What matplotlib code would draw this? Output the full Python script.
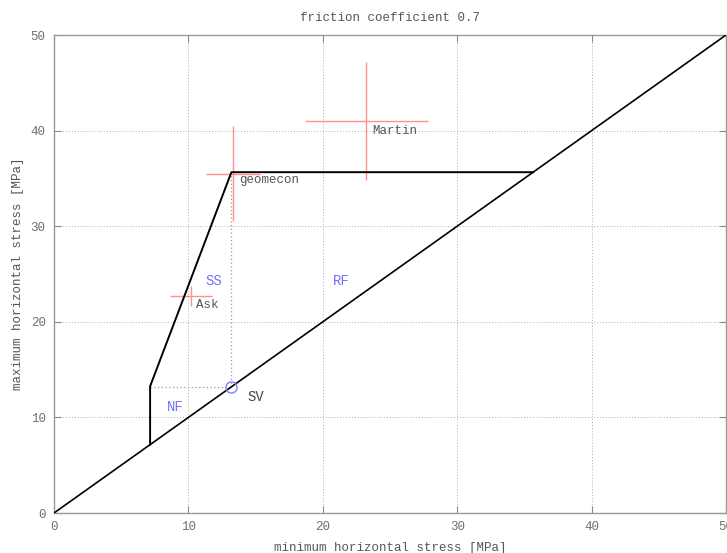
import matplotlib
matplotlib.use("Agg")
import matplotlib.pyplot as plt

# data
diag_x = [0, 50]
diag_y = [0, 50]
poly_x = [7.15, 7.15, 13.2, 35.65]
poly_y = [7.15, 13.25, 35.65, 35.65]
sv_x, sv_y = 13.2, 13.2

meas_names = ["geomecon", "Martin", "Ask"]
meas_x = [13.3, 23.25, 10.2]
meas_y = [35.5, 41.0, 22.7]
meas_xerr = [2.0, 4.6, 1.55]
meas_yerr = [5.0, 6.2, 1.0]
meas_label_xy = [(13.75, 34.8), (23.7, 40.0), (10.6, 21.8)]

regime_names = ["SS", "RF", "NF"]
regime_xy = [(11.9, 24.3), (21.4, 24.3), (9.0, 11.1)]

ticks = [0, 10, 20, 30, 40, 50]

font = "Liberation Mono"
plt.rcParams['font.family'] = [font, 'DejaVu Sans']

fig = plt.figure(figsize=(7.27, 5.53), dpi=100)
ax = fig.add_axes([54/727, 40/553, 672/727, 478/553])
ax.set_xlim(0, 50)
ax.set_ylim(0, 50)

ax.grid(True, color="#b0b0b0", linestyle=(0, (1, 2)), linewidth=0.7)
ax.set_axisbelow(True)

ax.plot(diag_x, diag_y, color="black", lw=1.2, zorder=3)
ax.plot(poly_x, poly_y, color="black", lw=1.4, zorder=3)
# dotted guide lines
ax.plot([poly_x[0], sv_x], [sv_y, sv_y], color="#999999", lw=0.9, linestyle=(0, (1, 2)), zorder=2)
ax.plot([sv_x, sv_x], [sv_y, poly_y[2]], color="#999999", lw=0.9, linestyle=(0, (1, 2)), zorder=2)
ax.plot([sv_x], [sv_y], marker="o", markersize=8, markerfacecolor="none",
        markeredgecolor="#8080ff", markeredgewidth=1.0, zorder=4)
ax.text(15.0, 12.1, "SV", color="#444444", fontsize=10, ha="center", va="center")

for n, x, y, xe, ye, (lx, ly) in zip(meas_names, meas_x, meas_y, meas_xerr, meas_yerr, meas_label_xy):
    ax.errorbar([x], [y], xerr=[xe], yerr=[ye], fmt="none", ecolor="#ff9090", elinewidth=1.0, capsize=0, zorder=2)
    ax.text(lx, ly, n, color="#555555", fontsize=9, ha="left", va="center")

for n, (x, y) in zip(regime_names, regime_xy):
    ax.text(x, y, n, color="#7070ff", fontsize=10, ha="center", va="center")

ax.set_xticks(ticks)
ax.set_yticks(ticks)
ax.tick_params(direction="in", length=5, color="#888888", labelcolor="#707070",
               labelsize=9, top=True, right=True, pad=6)
for s in ax.spines.values():
    s.set_color("#999999")
    s.set_linewidth(1.0)

ax.set_xlabel("minimum horizontal stress [MPa]", color="#555555", fontsize=9, labelpad=6)
ax.set_ylabel("maximum horizontal stress [MPa]", color="#555555", fontsize=9, labelpad=5)
ax.set_title("friction coefficient 0.7", color="#555555", fontsize=9, pad=10)

fig.savefig("out.png", dpi=100)
